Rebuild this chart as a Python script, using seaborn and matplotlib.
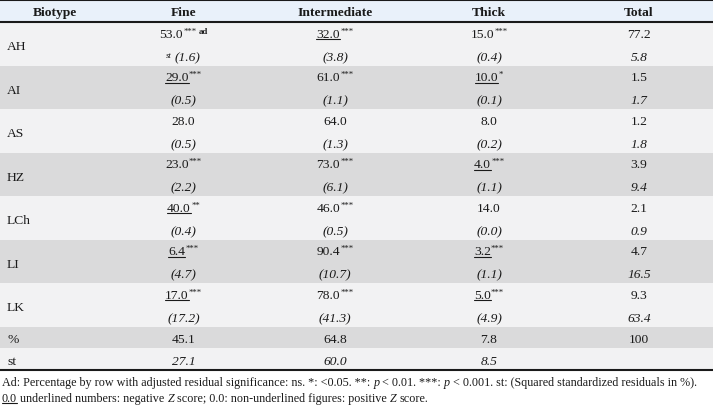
import matplotlib
matplotlib.use("Agg")
import matplotlib.pyplot as plt
import seaborn as sns
import pandas as pd
from matplotlib.colors import ListedColormap
from matplotlib.patches import Rectangle

# ---------------- data ----------------
biotypes = ["AH", "AI", "AS", "HZ", "LCh", "LI", "LK"]
headers = ["Biotype", "Fine", "Intermediate", "Thick", "Total"]

fine_pct = [53.0, 29.0, 28.0, 23.0, 40.0, 6.4, 17.0]
inter_pct = [32.0, 61.0, 64.0, 73.0, 46.0, 90.4, 78.0]
thick_pct = [15.0, 10.0, 8.0, 4.0, 14.0, 3.2, 5.0]

fine_sig = ["***", "***", "", "***", "**", "***", "***"]
inter_sig = ["***", "***", "", "***", "***", "***", "***"]
thick_sig = ["***", "*", "", "***", "", "***", "***"]

fine_neg = [False, True, False, False, True, True, True]
inter_neg = [True, False, False, False, False, False, False]
thick_neg = [False, True, False, True, False, True, True]

fine_st = [1.6, 0.5, 0.5, 2.2, 0.4, 4.7, 17.2]
inter_st = [3.8, 1.1, 1.3, 6.1, 0.5, 10.7, 41.3]
thick_st = [0.4, 0.1, 0.2, 1.1, 0.0, 1.1, 4.9]

total_pct = [77.2, 1.5, 1.2, 3.9, 2.1, 4.7, 9.3]
total_st = [5.8, 1.7, 1.8, 9.4, 0.9, 16.5, 63.4]

col_pct = [45.1, 64.8, 7.8, 100]
col_st = [27.1, 60.0, 8.5]
summary_labels = ["%", "st"]

footnote1 = [("Ad: Percentage by row with adjusted residual significance: ns. *: <0.05. **: ", "normal"),
             ("p", "italic"), (" < 0.01. ***: ", "normal"), ("p", "italic"),
             (" < 0.001. st: (Squared standardized residuals in %).", "normal")]
footnote2 = [("0.0", "under"), (" underlined numbers: negative ", "normal"), ("Z", "italic"),
             (" score; 0.0: non-underlined figures: positive ", "normal"), ("Z", "italic"),
             (" score.", "normal")]


def fmt(v):
    return "100" if v == 100 else f"{v:.1f}"


# ---------------- figure ----------------
sns.set_theme(style="white")
plt.rcParams["font.family"] = ["Liberation Serif", "DejaVu Serif"]

W, H = 713, 406
fig = plt.figure(figsize=(W / 100, H / 100), dpi=100)
fig.patch.set_facecolor("white")

top_body, bot_body = 23, 371
spans = [2] * len(biotypes) + [1] * len(summary_labels)
shade = []
for i, s in enumerate(spans):
    shade += [i % 2] * s
nsub = len(shade)
sub_h = (bot_body - top_body) / nsub

LIGHT, GRAY, HEAD, LINE = "#f2f2f3", "#dadadb", "#e9f1fa", "#1a1a1a"

hax = fig.add_axes([0, 1 - bot_body / H, 1, (bot_body - top_body) / H])
sns.heatmap(pd.DataFrame({"band": shade}), cmap=ListedColormap([LIGHT, GRAY]),
            vmin=0, vmax=1, cbar=False, ax=hax, xticklabels=False, yticklabels=False)
hax.set_axis_off()

ax = fig.add_axes([0, 0, 1, 1])
ax.set_xlim(0, W)
ax.set_ylim(H, 0)
ax.set_axis_off()
ax.patch.set_alpha(0)

ax.add_patch(Rectangle((0, 0), W, top_body, facecolor=HEAD, edgecolor="none", zorder=0))
ax.hlines([1, 23, bot_body], 0, W, color=LINE, lw=1.5, zorder=3)

renderer = fig.canvas.get_renderer()


def tw(t):
    return t.get_window_extent(renderer=renderer).width


FS = 9.7
SUP = 6.3
TXT = "#1a1a1a"

col_cx = [183.5, 335, 489]
total_cx = 639

# header
head_cx = [55] + col_cx + [total_cx]
for h, cx in zip(headers, head_cx):
    ax.text(cx, 16, h, ha="center", va="baseline", fontsize=FS, fontweight="bold", color=TXT)


def cell(cx, yb, main, sup="", sup_bold="", italic=False, under=False, prefix=""):
    style = "italic" if italic else "normal"
    t = ax.text(0, yb, main, ha="left", va="baseline", fontsize=FS, fontstyle=style, color=TXT)
    wm = tw(t)
    parts = []
    if sup:
        s = ax.text(0, yb - 4, sup, ha="left", va="baseline", fontsize=SUP, color=TXT)
        parts.append((s, tw(s), 0.3))
    if sup_bold:
        s = ax.text(0, yb - 4, sup_bold, ha="left", va="baseline", fontsize=SUP,
                    fontweight="bold", color=TXT)
        parts.append((s, tw(s), 2.0))
    pre_w = 0
    p = None
    if prefix:
        p = ax.text(0, yb - 3, prefix, ha="left", va="baseline", fontsize=SUP,
                    fontstyle="italic", color=TXT)
        pre_w = tw(p) + 3
    total = pre_w + wm + sum(w + g for _, w, g in parts)
    x = cx - total / 2
    if p is not None:
        p.set_x(x)
    x += pre_w
    t.set_x(x)
    if under:
        ax.plot([x, x + wm], [yb + 2.5, yb + 2.5], color=TXT, lw=0.8)
    x += wm
    for s, w, g in parts:
        x += g
        s.set_x(x)
        x += w


columns = [(fine_pct, fine_sig, fine_neg, fine_st),
           (inter_pct, inter_sig, inter_neg, inter_st),
           (thick_pct, thick_sig, thick_neg, thick_st)]

for i, b in enumerate(biotypes):
    y0 = top_body + 2 * i * sub_h
    yb1 = y0 + 0.5 * sub_h + 4.5 - 0.8
    yb2 = y0 + 1.5 * sub_h + 4.5 + 0.8
    ax.text(7, y0 + sub_h + 5.5, b, ha="left", va="baseline", fontsize=FS, color=TXT)
    for j, (pct, sig, neg, st) in enumerate(columns):
        cell(col_cx[j], yb1, fmt(pct[i]), sup=sig[i],
             sup_bold="ad" if (i == 0 and j == 0) else "", under=neg[i])
        cell(col_cx[j], yb2, f"({fmt(st[i])})", italic=True,
             prefix="st" if (i == 0 and j == 0) else "")
    cell(total_cx, yb1, fmt(total_pct[i]))
    cell(total_cx, yb2, fmt(total_st[i]), italic=True)

all_cx = col_cx + [total_cx]
y0 = top_body + 2 * len(biotypes) * sub_h
yb = y0 + 0.5 * sub_h + 4.5
ax.text(7, yb, summary_labels[0], ha="left", va="baseline", fontsize=FS, color=TXT)
for v, cx in zip(col_pct, all_cx):
    cell(cx, yb, fmt(v))
yb = y0 + 1.5 * sub_h + 4.5
ax.text(7, yb, summary_labels[1], ha="left", va="baseline", fontsize=FS, color=TXT)
for v, cx in zip(col_st, all_cx):
    cell(cx, yb, fmt(v), italic=True)


# footnotes
def run_line(runs, x0, yb, fs, draw=True):
    probe1 = ax.text(0, 0, "x x", fontsize=fs)
    probe2 = ax.text(0, 0, "xx", fontsize=fs)
    sw = tw(probe1) - tw(probe2)
    probe1.remove()
    probe2.remove()
    x = x0
    for s, kind in runs:
        lead = len(s) - len(s.lstrip(" "))
        trail = len(s) - len(s.rstrip(" "))
        core = s.strip(" ")
        x += lead * sw
        t = ax.text(x, yb, core, ha="left", va="baseline", fontsize=fs, color=TXT,
                    fontstyle="italic" if kind == "italic" else "normal")
        w = tw(t)
        if not draw:
            t.remove()
        elif kind == "under":
            ax.plot([x, x + w], [yb + 2, yb + 2], color=TXT, lw=0.8)
        x += w + trail * sw
    return x


FN = 8.7
end = run_line(footnote1, 2, 386, FN, draw=False)
FN = FN * (703 - 2) / (end - 2)
run_line(footnote1, 2, 386, FN)
run_line(footnote2, 2, 402, FN)

fig.savefig("out.png", dpi=100, facecolor="white")
